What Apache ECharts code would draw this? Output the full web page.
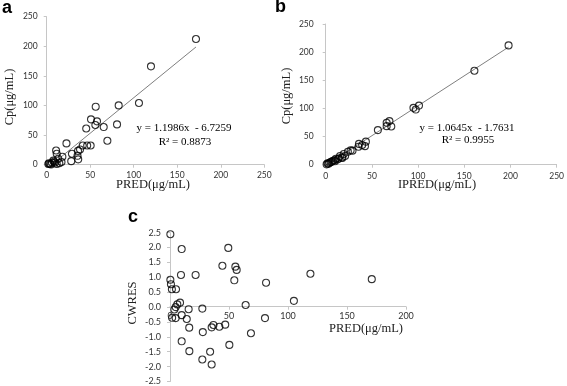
<!DOCTYPE html>
<html>
<head>
<meta charset="utf-8">
<script src="https://cdn.jsdelivr.net/npm/echarts@6/dist/echarts.min.js"></script>
<style>
  html, body { margin: 0; padding: 0; background: #fff; }
  #main { width: 567px; height: 386px; }
</style>
</head>
<body>
<div id="main"></div>
<script>
// panel a: PRED vs observed Cp
var predA = [171.5, 119.8, 106.0, 82.7, 56.3, 50.9, 57.8, 55.9, 65.5, 80.8, 45.4, 69.7, 22.7, 41.4, 46.5, 50.5, 38.3, 36.0, 35.4, 36.2, 29.0, 28.2, 10.8, 11.5, 18.0, 17.0, 13.3, 7.6, 9.5, 6.1, 3.8, 1.9, 11.5, 14.5, 5.0, 2.5, 8.5];
var cpA   = [212.3, 166.1, 104.2, 100.2, 98.0, 76.6, 73.2, 67.0, 63.6, 68.1, 61.2, 40.5, 36.0, 32.4, 32.4, 32.4, 25.8, 23.3, 15.0, 9.0, 18.5, 6.0, 24.0, 18.5, 13.5, 4.5, 10.0, 6.8, 3.4, 3.4, 1.2, 1.2, 1.2, 2.4, 0.5, 2.5, 5.0];
var fitA = { slope: 1.1986, intercept: -6.7259, r2: '0.8873' };

// panel b: IPRED vs observed Cp
var ipredB = [198, 161, 101, 95, 97.5, 56.5, 66, 69, 66, 71, 43.5, 36, 42.5, 35.5, 39.5, 27, 29, 24, 19.5, 21, 15.5, 17.5, 11, 13, 8, 6.5, 4, 2, 1, 3, 5.5, 9.5, 10, 18, 14];
var cpB    = [212, 167, 105, 101, 98, 61.5, 74.5, 77.5, 68.5, 68, 41, 37, 33, 32, 35, 25.5, 25, 23, 19, 15.5, 15.5, 13, 10.5, 9.5, 7, 5.5, 3.5, 2.4, 0.6, 1.5, 4.5, 8, 6, 12, 11];
var fitB = { slope: 1.0645, intercept: -1.7631, r2: '0.9955' };

// panel c: PRED vs CWRES
var predC  = [0.3, 9.9, 49.4, 44.4, 55.4, 56.5, 9.3, 21.7, 54.5, 81.4, 0.3, 0.8, 1.6, 5.1, 8.5, 6.2, 4.8, 3.7, 15.8, 27.4, 64.1, 105, 171, 119, 1.8, 4.8, 9.9, 14.2, 16.3, 27.8, 35.3, 36.8, 41.8, 46.8, 68.6, 80.5, 9.9, 16.4, 34.0, 27.4, 35.3, 50.3];
var cwresC = [2.45, 1.95, 1.99, 1.39, 1.36, 1.25, 1.08, 1.08, 0.90, 0.82, 0.92, 0.77, 0.60, 0.60, 0.15, 0.09, 0.0, -0.08, -0.07, -0.05, 0.07, 0.21, 0.94, 1.12, -0.36, -0.37, -0.27, -0.40, -0.69, -0.84, -0.68, -0.60, -0.66, -0.59, -0.88, -0.37, -1.15, -1.48, -1.50, -1.76, -1.93, -1.27];

var axisGray = '#c6c6c6';
var labelFont = { color: '#333', fontSize: 8.5, fontFamily: 'Lato' };
var serif = 'Liberation Serif';
var gridC = { left: 170, top: 232.7, width: 236, height: 149.6 };

function pairs(xs, ys) {
  return xs.map(function (x, i) { return [x, ys[i]]; });
}
function trend(xs, fit) {
  var lo = Math.min.apply(null, xs), hi = Math.max.apply(null, xs);
  return [[lo, fit.slope * lo + fit.intercept], [hi, fit.slope * hi + fit.intercept]];
}
function valAxis(idx, min, max, step, extra) {
  var ax = {
    type: 'value', gridIndex: idx, min: min, max: max, interval: step,
    splitLine: { show: false },
    axisLine: { show: true, onZero: false, lineStyle: { color: axisGray, width: 1 } },
    axisTick: { show: true, length: 3, lineStyle: { color: axisGray } },
    axisLabel: Object.assign({ margin: 8 }, labelFont)
  };
  return Object.assign(ax, extra || {});
}
var dots = {
  type: 'scatter', symbol: 'circle', symbolSize: 7,
  itemStyle: { color: 'rgba(0,0,0,0)', borderColor: '#000', borderWidth: 1.1 },
  z: 3
};
var fitLine = {
  type: 'line', symbol: 'none', lineStyle: { color: '#7f7f7f', width: 1 }, z: 2
};

var chart = echarts.init(document.getElementById('main'));
var option = {
  backgroundColor: '#fff',
  animation: false,
  grid: [
    { left: 46.7, top: 16.7, width: 217.6, height: 148 },
    { left: 325.7, top: 24, width: 233.6, height: 140.7 },
    gridC
  ],
  xAxis: [
    valAxis(0, 0, 250, 50, { axisLabel: Object.assign({ margin: 6 }, labelFont) }),
    valAxis(1, 0, 250, 50, { axisLabel: Object.assign({ margin: 7 }, labelFont) }),
    // CWRES panel: x axis drawn across the zero line (middle of the -2.5..2.5 range)
    valAxis(2, 0, 200, 50, { offset: -gridC.height / 2,
      axisLabel: Object.assign({ margin: 5 }, labelFont, { fontSize: 9 }) })
  ],
  yAxis: [
    valAxis(0, 0, 250, 50, { axisLabel: Object.assign({ margin: 9 }, labelFont) }),
    valAxis(1, 0, 250, 50, { axisLabel: Object.assign({ margin: 12 }, labelFont) }),
    valAxis(2, -2.5, 2.5, 0.5, { axisLabel: Object.assign({ margin: 9,
      formatter: function (v) { return v.toFixed(1); } }, labelFont, { fontSize: 9 }) })
  ],
  series: [
    Object.assign({}, fitLine, { xAxisIndex: 0, yAxisIndex: 0, data: trend(predA, fitA) }),
    Object.assign({}, dots, { xAxisIndex: 0, yAxisIndex: 0, data: pairs(predA, cpA) }),
    Object.assign({}, fitLine, { xAxisIndex: 1, yAxisIndex: 1, data: trend(ipredB, fitB) }),
    Object.assign({}, dots, { xAxisIndex: 1, yAxisIndex: 1, data: pairs(ipredB, cpB) }),
    Object.assign({}, dots, { xAxisIndex: 2, yAxisIndex: 2, data: pairs(predC, cwresC) })
  ],
  graphic: [
    // panel letters
    { type: 'text', left: 2, top: -1, style: { text: 'a', font: 'bold 18px "Liberation Sans"', fill: '#000' } },
    { type: 'text', left: 275, top: -2, style: { text: 'b', font: 'bold 18px "Liberation Sans"', fill: '#000' } },
    { type: 'text', left: 128, top: 208, style: { text: 'c', font: 'bold 18px "Liberation Sans"', fill: '#000' } },
    // axis titles
    { type: 'text', x: 10, y: 97, rotation: Math.PI / 2,
      style: { text: 'Cp(μg/mL)', font: '12.5px "' + serif + '"', fill: '#222', textAlign: 'center', textVerticalAlign: 'middle' } },
    { type: 'text', x: 153, y: 185,
      style: { text: 'PRED(μg/mL)', font: '12.5px "' + serif + '"', fill: '#222', textAlign: 'center', textVerticalAlign: 'middle' } },
    { type: 'text', x: 287, y: 96, rotation: Math.PI / 2,
      style: { text: 'Cp(μg/mL)', font: '12.5px "' + serif + '"', fill: '#222', textAlign: 'center', textVerticalAlign: 'middle' } },
    { type: 'text', x: 437, y: 185,
      style: { text: 'IPRED(μg/mL)', font: '12.5px "' + serif + '"', fill: '#222', textAlign: 'center', textVerticalAlign: 'middle' } },
    { type: 'text', x: 133, y: 303, rotation: Math.PI / 2,
      style: { text: 'CWRES', font: '12.5px "' + serif + '"', fill: '#222', textAlign: 'center', textVerticalAlign: 'middle' } },
    { type: 'text', x: 366, y: 329,
      style: { text: 'PRED(μg/mL)', font: '12.5px "' + serif + '"', fill: '#222', textAlign: 'center', textVerticalAlign: 'middle' } },
    // regression equations
    { type: 'text', x: 184, y: 128,
      style: { text: 'y = ' + fitA.slope + 'x  - ' + (-fitA.intercept), font: '11px "' + serif + '"', fill: '#000', textAlign: 'center', textVerticalAlign: 'middle' } },
    { type: 'text', x: 185, y: 142,
      style: { text: 'R² = ' + fitA.r2, font: '11px "' + serif + '"', fill: '#000', textAlign: 'center', textVerticalAlign: 'middle' } },
    { type: 'text', x: 467, y: 128,
      style: { text: 'y = ' + fitB.slope + 'x  - ' + (-fitB.intercept), font: '11px "' + serif + '"', fill: '#000', textAlign: 'center', textVerticalAlign: 'middle' } },
    { type: 'text', x: 468, y: 140,
      style: { text: 'R² = ' + fitB.r2, font: '11px "' + serif + '"', fill: '#000', textAlign: 'center', textVerticalAlign: 'middle' } }
  ]
};
chart.setOption(option);
</script>
</body>
</html>
